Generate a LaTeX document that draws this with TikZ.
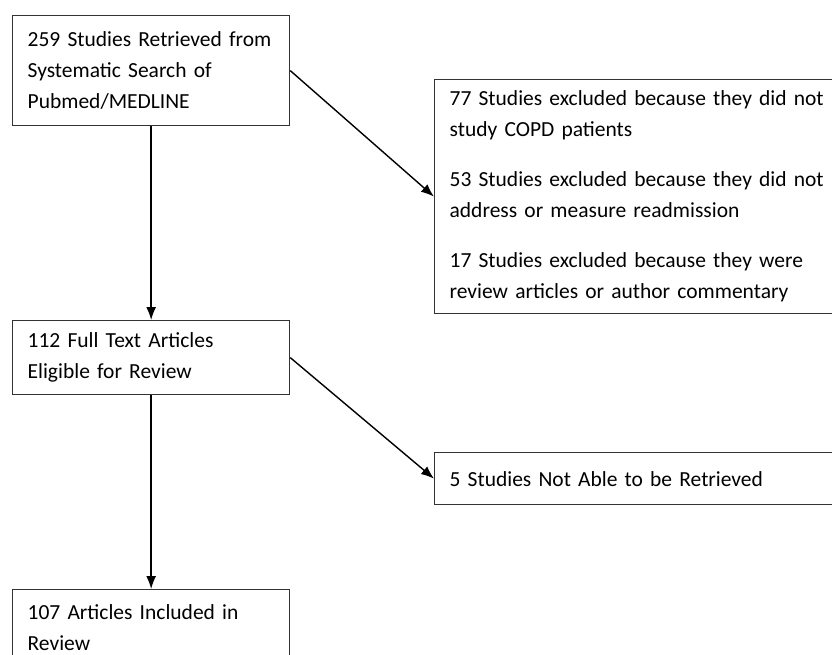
\documentclass[tikz,border=0pt]{standalone}
\usepackage{fontspec}
\setmainfont{Carlito}
\usetikzlibrary{arrows.meta}
\begin{document}
\begin{tikzpicture}[x=1pt,y=-1pt,
  box/.style={draw=black!80, line width=1.3pt, anchor=north west, align=left,
    inner xsep=15pt, inner ysep=0pt, font=\fontsize{21.5}{31}\selectfont, text width=#1},
  arr/.style={-{Latex[length=13pt,width=10pt]}, line width=1.4pt}]
\useasboundingbox (0,0) rectangle (832,655);
\clip (0,0) rectangle (832,655);
\fill[white] (0,0) rectangle (832,655);
\node[box=247pt, minimum height=110pt] (b1) at (12,15)
  {259 Studies Retrieved from\\Systematic Search of\\Pubmed/MEDLINE};
\node[box=386pt, minimum height=234pt] (b2) at (434,79)
  {77 Studies excluded because they did not\\study COPD patients\\[19pt]
   53 Studies excluded because they did not\\address or measure readmission\\[19pt]
   17 Studies excluded because they were\\review articles or author commentary};
\node[box=247pt, minimum height=74pt] (b3) at (12,320)
  {112 Full Text Articles\\Eligible for Review};
\node[box=386pt, minimum height=52pt] (b4) at (434,452)
  {5 Studies Not Able to be Retrieved};
\node[box=247pt, minimum height=76pt] (b5) at (12,589)
  {107 Articles Included in\\Review};
\draw[arr] (b1.south) -- (b3.north);
\draw[arr] (b1.east) -- (b2.west);
\draw[arr] (b3.east) -- (b4.west);
\draw[arr] (b3.south) -- (b5.north);
\end{tikzpicture}
\end{document}
